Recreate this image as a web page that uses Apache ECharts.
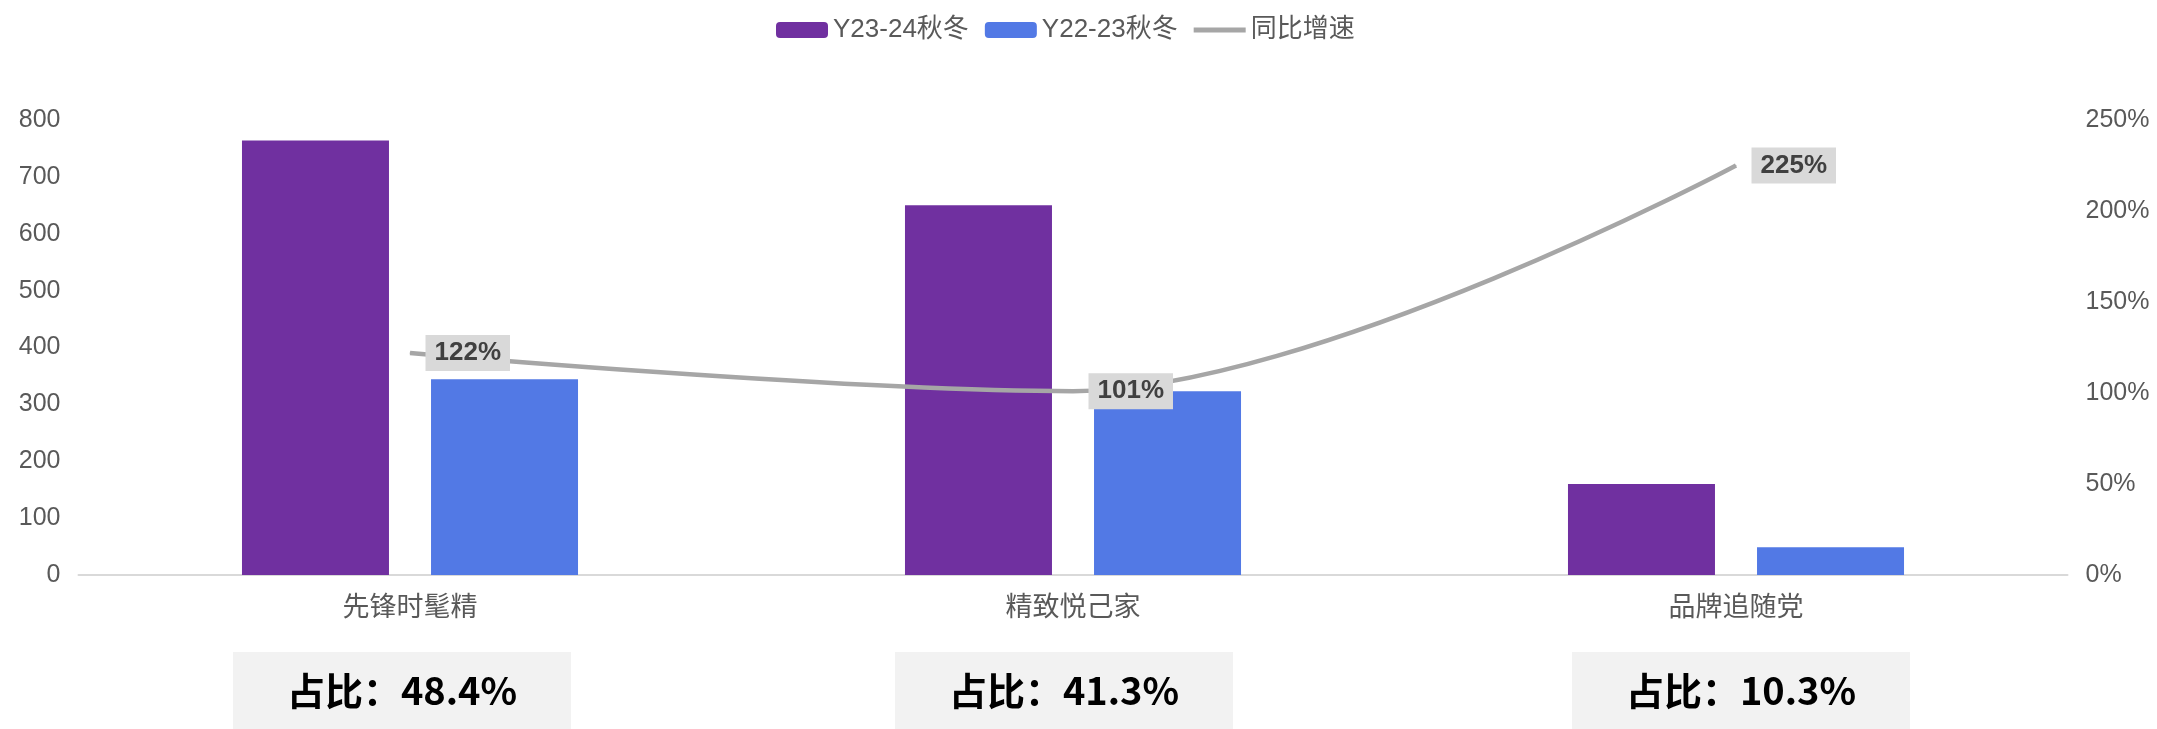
<!DOCTYPE html>
<html>
<head>
<meta charset="utf-8">
<script src="https://cdn.jsdelivr.net/npm/echarts@6/dist/echarts.min.js"></script>
<style>
  html, body { margin: 0; padding: 0; background: #fff; }
  #main { width: 2157px; height: 729px; }
</style>
</head>
<body>
<div id="main"></div>
<script>
// 数据
var categories = ['先锋时髦精', '精致悦己家', '品牌追随党'];
var seasonNow = [764, 650, 160];   // Y23-24秋冬
var seasonPrev = [344, 323, 49];   // Y22-23秋冬
var growth = [1.22, 1.01, 2.25];   // 同比增速
var shares = ['48.4%', '41.3%', '10.3%'];
var leftTicks = { min: 0, max: 800, interval: 100 };
var rightTicks = { min: 0, max: 2.5, interval: 0.5 };

var FONT = 'Liberation Sans, Arial, Noto Sans CJK SC, sans-serif';
var CJK = 'Noto Sans CJK SC, sans-serif';
// 占比框相对类目中心的微调
var boxShift = [-8, -9, 5];

var myChart = echarts.init(document.getElementById('main'));

myChart.setOption({
  animation: false,
  textStyle: { fontFamily: FONT },
  legend: {
    left: 771,
    top: 12,
    itemWidth: 52,
    itemHeight: 16,
    itemGap: 16,
    textStyle: { fontSize: 26, color: '#595959', fontFamily: FONT },
    data: [
      { name: 'Y23-24秋冬' },
      { name: 'Y22-23秋冬' },
      {
        name: '同比增速',
        icon: 'path://M0,0L0.01,0L0,0.01Z M0,5.5L52,5.5L52,10.5L0,10.5Z M52,16L51.99,16L52,15.99Z',
        itemStyle: { color: '#A6A6A6' }
      }
    ]
  },
  grid: { left: 78.5, right: 89.5, top: 120, bottom: 154 },
  xAxis: {
    type: 'category',
    data: categories,
    axisLine: { lineStyle: { color: '#D9D9D9', width: 2 } },
    axisTick: { show: false },
    axisLabel: { fontSize: 27, color: '#595959', margin: 17, fontFamily: CJK }
  },
  yAxis: [
    {
      type: 'value',
      min: leftTicks.min,
      max: leftTicks.max,
      interval: leftTicks.interval,
      axisLine: { show: false },
      axisTick: { show: false },
      splitLine: { show: false },
      axisLabel: { fontSize: 25, color: '#595959', margin: 18 }
    },
    {
      type: 'value',
      min: rightTicks.min,
      max: rightTicks.max,
      interval: rightTicks.interval,
      axisLine: { show: false },
      axisTick: { show: false },
      splitLine: { show: false },
      axisLabel: {
        fontSize: 25,
        color: '#595959',
        margin: 18,
        formatter: function (v) { return Math.round(v * 100) + '%'; }
      }
    }
  ],
  series: [
    {
      name: 'Y23-24秋冬',
      type: 'bar',
      barWidth: 147,
      barGap: '28.6%',
      itemStyle: { color: '#7030A0' },
      data: seasonNow
    },
    {
      name: 'Y22-23秋冬',
      type: 'bar',
      barWidth: 147,
      itemStyle: { color: '#5279E5' },
      data: seasonPrev
    },
    {
      name: '同比增速',
      type: 'line',
      yAxisIndex: 1,
      smooth: 0.35,
      symbol: 'circle',
      symbolSize: 1,
      z: 5,
      lineStyle: { color: '#A6A6A6', width: 4.5 },
      itemStyle: { color: '#A6A6A6' },
      label: {
        show: true,
        position: 'right',
        distance: 15,
        fontSize: 26,
        fontWeight: 'bold',
        color: '#404040',
        backgroundColor: '#D9D9D9',
        padding: [5, 9],
        formatter: function (p) { return Math.round(p.value * 100) + '%'; }
      },
      data: growth
    }
  ]
});

// 底部占比框
var boxes = [];
for (var j = 0; j < categories.length; j++) {
  var cx = myChart.convertToPixel({ xAxisIndex: 0 }, categories[j]) + boxShift[j];
  boxes.push({
    type: 'rect',
    shape: { x: cx - 169, y: 652, width: 338, height: 77 },
    style: { fill: '#F2F2F2' },
    textContent: {
      style: {
        text: '占比：' + shares[j],
        fontSize: 38,
        fontWeight: 'bold',
        fill: '#000',
        fontFamily: CJK
      }
    },
    textConfig: { position: 'inside' }
  });
}
myChart.setOption({ graphic: boxes });
</script>
</body>
</html>
